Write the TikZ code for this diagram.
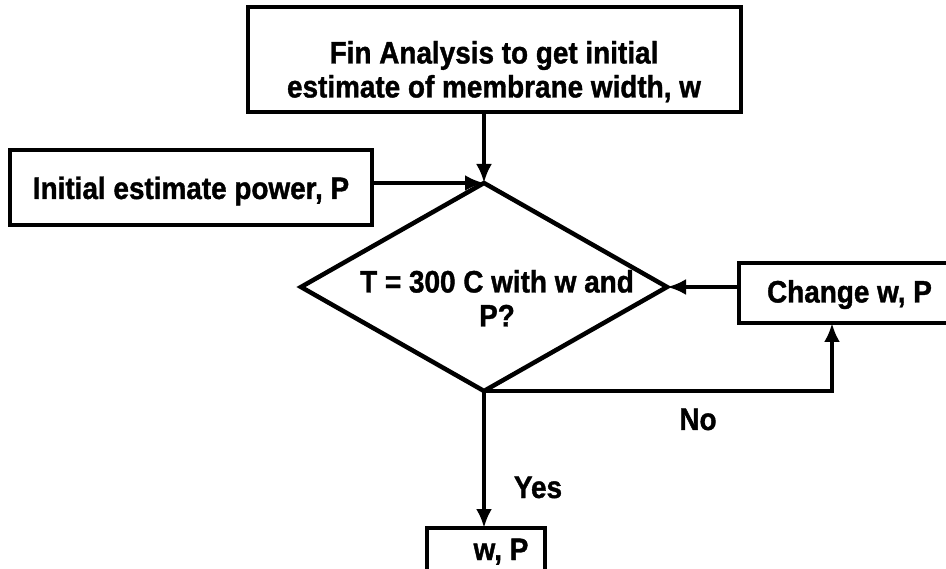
\documentclass[tikz,border=0pt]{standalone}
\usepackage{fontspec}
\setmainfont{Liberation Sans}[FakeStretch=0.9,BoldFeatures={FakeBold=1.2}]
\usetikzlibrary{arrows.meta,shapes.geometric}
\begin{document}
\begin{tikzpicture}[x=1pt,y=-1pt,
  every node/.style={font=\fontsize{31}{34}\selectfont\bfseries},
  box/.style={draw, line width=3.8pt, inner sep=0pt, outer sep=0pt},
  txt/.style={inner sep=0pt, outer sep=0pt, align=center},
  conn/.style={line width=4.2pt},
  arr/.style={conn, -{Latex[length=19pt,width=16pt]}},
]
\useasboundingbox (0,0) rectangle (946,569);
% boxes
\node[box, minimum width=493pt, minimum height=105pt] (fin) at (494.5,59.5) {};
\node[txt, anchor=north] (fintext) at (494,41) {Fin Analysis to get initial\\estimate of membrane width, w};
\node[box, minimum width=362pt, minimum height=75pt, text height=23pt, text depth=0pt] (init) at (191,187.5) {Initial estimate power, P};
\node[draw, diamond, line width=4.5pt, minimum width=366pt, minimum height=208pt, inner sep=0pt, outer sep=0pt] (dec) at (484,287) {};
\node[txt, anchor=north] (dectext) at (497,270) {T = 300 C with w and\\P?};
\node[box, minimum width=221pt, minimum height=60pt, text height=19pt, text depth=0pt] (change) at (849.5,293) {Change w, P};
\node[box, minimum width=118pt, minimum height=70pt] (wp) at (486,563) {};
\node[txt, anchor=base] (wptext) at (501,560) {w, P};
% labels
\node[txt, anchor=base] (no) at (698,430) {No};
\node[txt, anchor=base] (yes) at (538,498) {Yes};
% connectors
\coordinate (nox) at (832,0);
\draw[arr] (fin.south -| dec.north) -- (dec.north);
\draw[arr] (init.east |- dec.north) -- (dec.north);
\draw[arr] (change.west |- dec.east) -- (dec.east);
\draw[arr] (dec.south) -- (dec.south -| nox) -- (nox |- change.south);
\draw[arr] (dec.south) -- (dec.south |- wp.north);
\end{tikzpicture}
\end{document}
